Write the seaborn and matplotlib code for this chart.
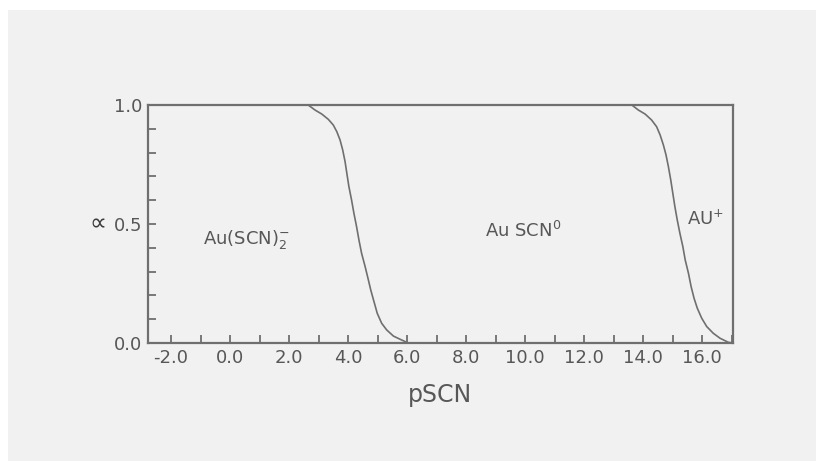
import matplotlib
matplotlib.use("Agg")
import matplotlib.pyplot as plt
from matplotlib.patches import Rectangle
from matplotlib.ticker import MultipleLocator
import pandas as pd
import seaborn as sns

# Fraction curves vs pSCN
psc_first = [2.65, 2.88, 3.11, 3.33, 3.50, 3.62, 3.73, 3.82, 3.90, 3.96, 4.03, 4.12, 4.20,
             4.29, 4.37, 4.46, 4.58, 4.69, 4.77, 4.88, 4.99, 5.14, 5.31, 5.54, 5.76, 6.04]
alpha_first = [1.0, 0.979, 0.962, 0.940, 0.916, 0.888, 0.853, 0.811, 0.762, 0.713, 0.657, 0.601, 0.545,
               0.489, 0.433, 0.377, 0.321, 0.265, 0.223, 0.174, 0.125, 0.083, 0.055, 0.029, 0.016, 0.0]

psc_second = [13.62, 13.84, 14.07, 14.29, 14.46, 14.58, 14.69, 14.78, 14.86, 14.94, 15.01, 15.08, 15.16,
              15.25, 15.35, 15.43, 15.54, 15.63, 15.73, 15.84, 15.99, 16.16, 16.38, 16.61, 16.89, 17.05]
alpha_second = [1.0, 0.979, 0.962, 0.937, 0.909, 0.874, 0.832, 0.790, 0.741, 0.685, 0.629, 0.573, 0.517,
                0.461, 0.405, 0.349, 0.293, 0.237, 0.188, 0.146, 0.104, 0.069, 0.041, 0.020, 0.003, 0.0]

x_tick_values = [-2, 0, 2, 4, 6, 8, 10, 12, 14, 16]
x_tick_labels = ["-2.0", "0.0", "2.0", "4.0", "6.0", "8.0", "10.0", "12.0", "14.0", "16.0"]
y_tick_values = [0.0, 0.5, 1.0]
y_tick_labels = ["0.0", "0.5", "1.0"]

species_labels = [r"Au(SCN)$_2^{-}$", r"Au SCN$^{0}$", r"AU$^{+}$"]
species_x = [-0.92, 8.64, 15.49]
species_y = [0.416, 0.445, 0.496]

sns.set_theme(style="white")
plt.rcParams["font.family"] = ["DejaVu Sans"]
plt.rcParams["mathtext.default"] = "regular"

panel = "#f0f1f0"
ink = "#6f6f6f"
text_c = "#575757"

fig = plt.figure(figsize=(8.16, 4.61), dpi=100)
fig.patch.set_facecolor("white")
fig.patches.append(Rectangle((8 / 816, 0), 1, 1 - 10 / 461, transform=fig.transFigure,
                             facecolor=panel, edgecolor="none", zorder=-10))

ax = fig.add_axes([148 / 816, 1 - 343 / 461, (733 - 148) / 816, (343 - 105) / 461])
ax.set_facecolor(panel)

curves = pd.concat([
    pd.DataFrame({"pSCN": psc_first, "alpha": alpha_first, "step": "first"}),
    pd.DataFrame({"pSCN": psc_second, "alpha": alpha_second, "step": "second"}),
])
for step, grp in curves.groupby("step"):
    sns.lineplot(data=grp, x="pSCN", y="alpha", ax=ax, color=ink, linewidth=1.2,
                 sort=False, estimator=None, legend=False)

ax.set_xlim(-2.78, 17.05)
ax.set_ylim(0.0, 1.0)

ax.set_xticks(x_tick_values)
ax.set_xticklabels(x_tick_labels)
ax.xaxis.set_minor_locator(MultipleLocator(1))
ax.set_yticks(y_tick_values)
ax.set_yticklabels(y_tick_labels)
ax.yaxis.set_minor_locator(MultipleLocator(0.1))

ax.tick_params(axis="both", which="both", direction="in", length=6, width=1.3,
               color=ink, labelcolor=text_c, labelsize=13, pad=4)
ax.tick_params(axis="x", which="both", top=False, bottom=True)
ax.tick_params(axis="y", which="both", left=True, right=False)

for s in ax.spines.values():
    s.set_visible(True)
    s.set_color(ink)
    s.set_linewidth(1.6)

ax.set_xlabel("pSCN", fontsize=17, color=text_c, labelpad=12)
ax.set_ylabel("")
ax.text(-0.072, 0.5, "∝", transform=ax.transAxes, ha="right", va="center",
        fontsize=17, color="#3c3c3c", family=["Liberation Sans", "DejaVu Sans"])

for lab, xs, ys in zip(species_labels, species_x, species_y):
    ax.text(xs, ys, lab, fontsize=13, color=text_c, ha="left", va="baseline")

fig.savefig("out.png", dpi=100, facecolor=fig.get_facecolor())
